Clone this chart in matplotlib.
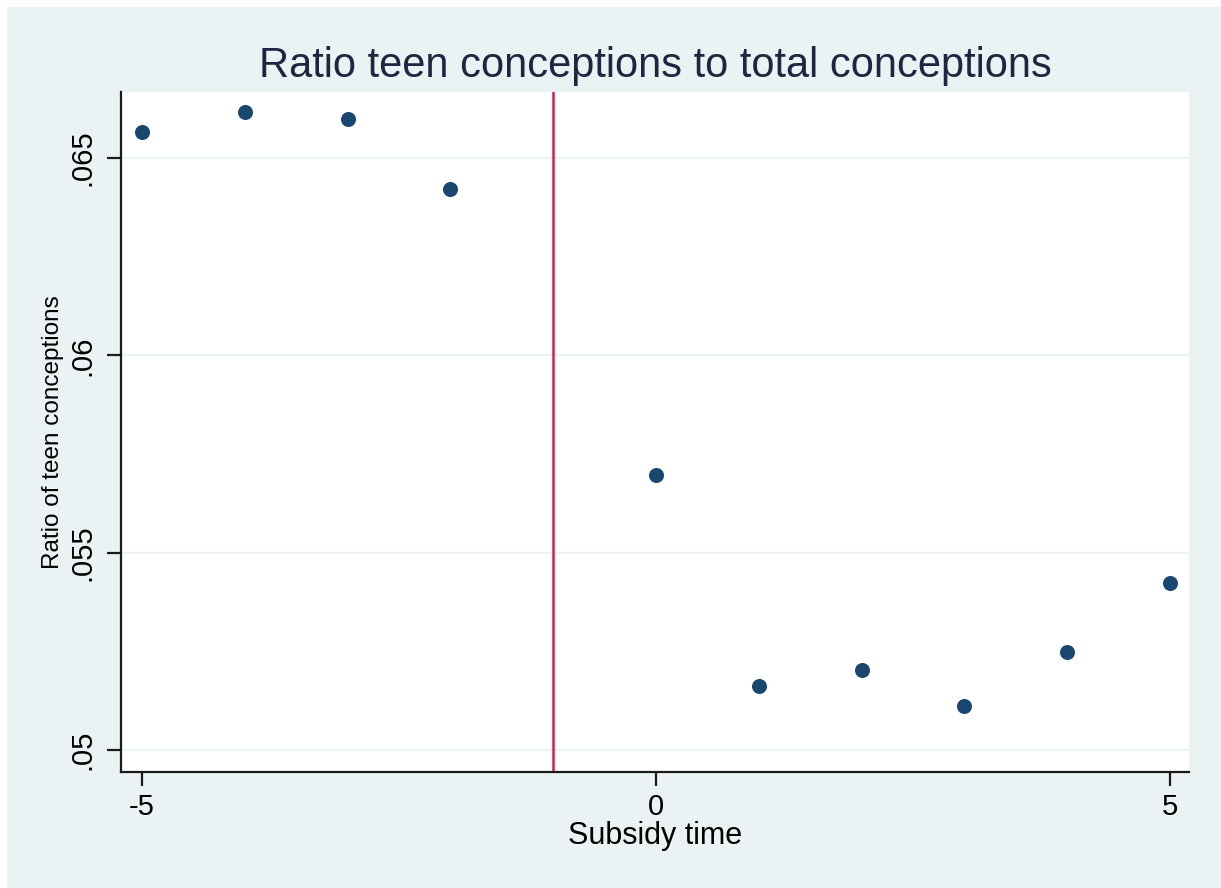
import numpy as np
import matplotlib
matplotlib.use('Agg')
import matplotlib.pyplot as plt
from matplotlib.patches import Rectangle

plt.rcParams['font.family'] = ['Liberation Sans', 'DejaVu Sans']

# data
subsidy_time = [-5, -4, -3, -2, 0, 1, 2, 3, 4, 5]
teen_ratio = [0.06566, 0.06617, 0.06599, 0.06421, 0.05698,
              0.05162, 0.05203, 0.05112, 0.05249, 0.05424]
cutoff = -1
yticks = [0.05, 0.055, 0.06, 0.065]
ytick_labels = ['.05', '.055', '.06', '.065']
xticks = [-5, 0, 5]

bg = '#EAF2F3'
fig = plt.figure(figsize=(12.21, 8.88), dpi=100, facecolor=bg)
# white border strips on top and left of the screenshot
fig.patches.append(Rectangle((0, 0), 7 / 1221, 1, transform=fig.transFigure,
                             facecolor='white', edgecolor='none', zorder=-1))
fig.patches.append(Rectangle((0, 1 - 7 / 888), 1, 7 / 888, transform=fig.transFigure,
                             facecolor='white', edgecolor='none', zorder=-1))

ax = fig.add_axes([121 / 1221, 1 - 772 / 888, (1189 - 121) / 1221, (772 - 92) / 888])
ax.set_facecolor('white')

ax.scatter(subsidy_time, teen_ratio, s=15 ** 2 * 0.52, color='#1a476f', zorder=3,
           linewidths=0)
ax.axvline(cutoff, color='#D21F4F', lw=1.8, zorder=2)

ax.set_xlim(-5.204, 5.185)
ax.set_ylim(0.049442, 0.066675)
ax.set_xticks(xticks)
ax.set_xticklabels([str(x) for x in xticks])
ax.set_yticks(yticks)
ax.set_yticklabels(ytick_labels, rotation=90, va='center')
ax.grid(axis='y', color=bg, lw=1.6)
ax.set_axisbelow(True)

for s in ['top', 'right']:
    ax.spines[s].set_visible(False)
for s in ['left', 'bottom']:
    ax.spines[s].set_linewidth(1.6)
    ax.spines[s].set_color('#1a1a1a')
ax.tick_params(axis='both', direction='out', length=10, width=1.6, color='#1a1a1a',
               labelsize=21, labelcolor='black')
ax.tick_params(axis='y', pad=8)
ax.tick_params(axis='x', pad=5)

ax.set_xlabel('Subsidy time', fontsize=22, labelpad=0)
ax.set_ylabel('Ratio of teen conceptions', fontsize=17.5, labelpad=3)
ax.set_title('Ratio teen conceptions to total conceptions', fontsize=30,
             color='#1e2742', pad=11)

fig.savefig('out.png', dpi=100, facecolor=bg)
